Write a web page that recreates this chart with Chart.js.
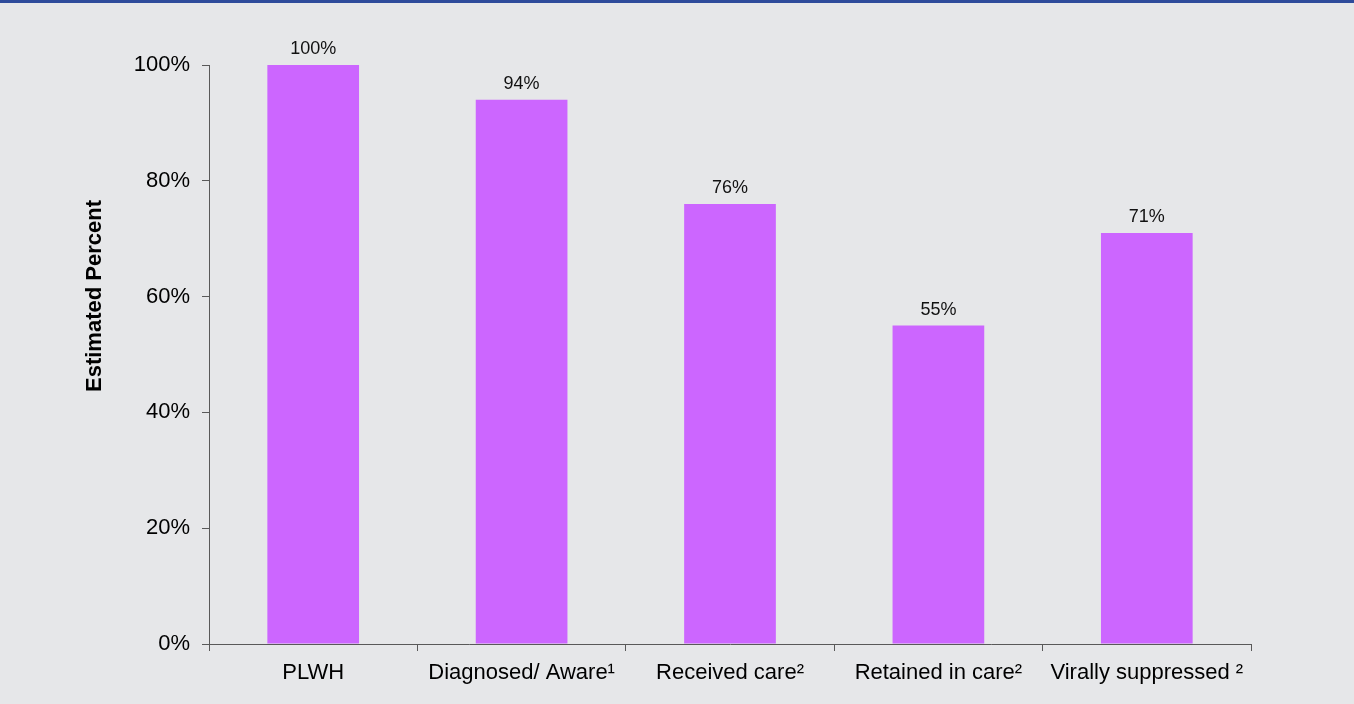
<!DOCTYPE html>
<html>
<head>
<meta charset="utf-8">
<script src="https://cdn.jsdelivr.net/npm/chart.js@4/dist/chart.umd.min.js"></script>
<style>
  html, body { margin: 0; padding: 0; background: #E6E7E9; }
  canvas { display: block; }
</style>
</head>
<body>
<canvas id="c" width="1354" height="704"></canvas>
<script>
const categories = ['PLWH', 'Diagnosed/ Aware\u00B9', 'Received care\u00B2', 'Retained in care\u00B2', 'Virally suppressed \u00B2'];
const percentValues = [100, 94, 76, 55, 71];
const yTickValues = [0, 20, 40, 60, 80, 100];
const yTitle = 'Estimated Percent';

const FONT = '"Liberation Sans", Arial, Helvetica, sans-serif';
const AXIS = '#595959';

const backgroundPlugin = {
  id: 'bg',
  beforeDraw(chart) {
    const ctx = chart.ctx;
    ctx.save();
    ctx.fillStyle = '#E6E7E9';
    ctx.fillRect(0, 0, chart.width, chart.height);
    ctx.fillStyle = '#2E4B9B';
    ctx.fillRect(0, 0, chart.width, 3);
    ctx.restore();
  }
};

const valueLabelPlugin = {
  id: 'valueLabels',
  afterDatasetsDraw(chart) {
    const ctx = chart.ctx;
    const meta = chart.getDatasetMeta(0);
    ctx.save();
    ctx.font = '18px ' + FONT;
    ctx.fillStyle = '#111';
    ctx.textAlign = 'center';
    ctx.textBaseline = 'alphabetic';
    meta.data.forEach((bar, i) => {
      ctx.fillText(percentValues[i] + '%', bar.x, bar.y - 11);
    });
    ctx.restore();
  }
};

const yTitlePlugin = {
  id: 'yTitle',
  afterDraw(chart) {
    const ctx = chart.ctx;
    ctx.save();
    ctx.translate(94.5, 296);
    ctx.rotate(-Math.PI / 2);
    ctx.font = 'bold 22px ' + FONT;
    ctx.fillStyle = '#000';
    ctx.textAlign = 'center';
    ctx.textBaseline = 'middle';
    ctx.fillText(yTitle, 0, 0);
    ctx.restore();
  }
};

new Chart(document.getElementById('c'), {
  type: 'bar',
  data: {
    labels: categories,
    datasets: [{
      data: percentValues,
      backgroundColor: '#CC66FF',
      borderWidth: 0,
      barPercentage: 0.44,
      categoryPercentage: 1.0
    }]
  },
  options: {
    responsive: false,
    animation: false,
    layout: { padding: { top: 65, right: 103, left: 81, bottom: 0 } },
    plugins: {
      legend: { display: false },
      tooltip: { enabled: false }
    },
    scales: {
      x: {
        grid: { offset: true, drawOnChartArea: false, drawTicks: true, tickLength: 7, color: AXIS },
        border: { color: AXIS, width: 1 },
        ticks: {
          font: { family: FONT, size: 22 },
          color: '#000',
          padding: 9,
          maxRotation: 0,
          autoSkip: false
        },
        afterFit(s) { s.height = 60; }
      },
      y: {
        min: 0,
        max: 100,
        afterBuildTicks(s) { s.ticks = yTickValues.map(v => ({ value: v })); },
        grid: { drawOnChartArea: false, drawTicks: true, tickLength: 7, color: AXIS },
        border: { color: AXIS, width: 1 },
        ticks: {
          font: { family: FONT, size: 22 },
          color: '#000',
          padding: 12,
          callback: v => v + '%'
        },
        afterFit(s) { s.width = 128; }
      }
    }
  },
  plugins: [backgroundPlugin, valueLabelPlugin, yTitlePlugin]
});
</script>
</body>
</html>
